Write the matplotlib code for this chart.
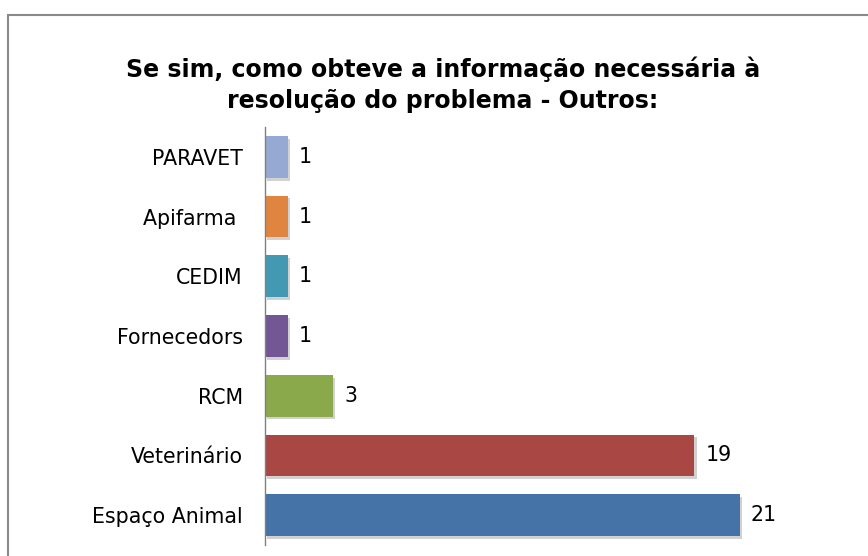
import matplotlib
matplotlib.use('Agg')
import matplotlib.pyplot as plt
import matplotlib.patheffects as pe
from matplotlib.patches import Rectangle

categories = ['PARAVET', 'Apifarma ', 'CEDIM', 'Fornecedors', 'RCM', 'Veterinário', 'Espaço Animal']
values = [1, 1, 1, 1, 3, 19, 21]
colors = ['#95a9d3', '#df853f', '#4299b1', '#735694', '#8aa94b', '#a94745', '#4572a7']
title = 'Se sim, como obteve a informação necessária à\nresolução do problema - Outros:'

FNT = 14.8

fig = plt.figure(figsize=(8.68, 5.56), dpi=100)
ax = fig.add_axes([0.3053, 0.0198, 0.625, 0.7518])

ypos = list(range(len(categories)))[::-1]
bars = ax.barh(ypos, values, height=0.7, color=colors, zorder=2)
for b in bars:
    b.set_path_effects([pe.SimplePatchShadow(offset=(1.5, -2), shadow_rgbFace='#000000', alpha=0.18), pe.Normal()])

for y, v in zip(ypos, values):
    ax.text(v + 0.5, y, str(v), va='center', ha='left', fontsize=FNT, color='black')

ax.set_yticks(ypos)
ax.set_yticklabels(categories, fontsize=FNT)
ax.tick_params(axis='y', length=0, pad=16)
ax.set_xticks([])
ax.set_xlim(0, 24)
ax.set_ylim(-0.5, len(categories) - 0.5)
for s in ['top', 'right', 'bottom']:
    ax.spines[s].set_visible(False)
ax.spines['left'].set_color('#808080')
ax.spines['left'].set_linewidth(1)

fig.text(0.51, 0.847, title, ha='center', va='center', fontsize=17, fontweight='bold', linespacing=1.35)

# chart frame (cut off on the right and bottom)
fig.patches.append(Rectangle((8 / 868, -0.05), 1.1, 1 - 15 / 556 + 0.05, transform=fig.transFigure,
                             fill=False, edgecolor='#8a8a8a', linewidth=1.5, clip_on=False))

plt.savefig('out.png', dpi=100)
